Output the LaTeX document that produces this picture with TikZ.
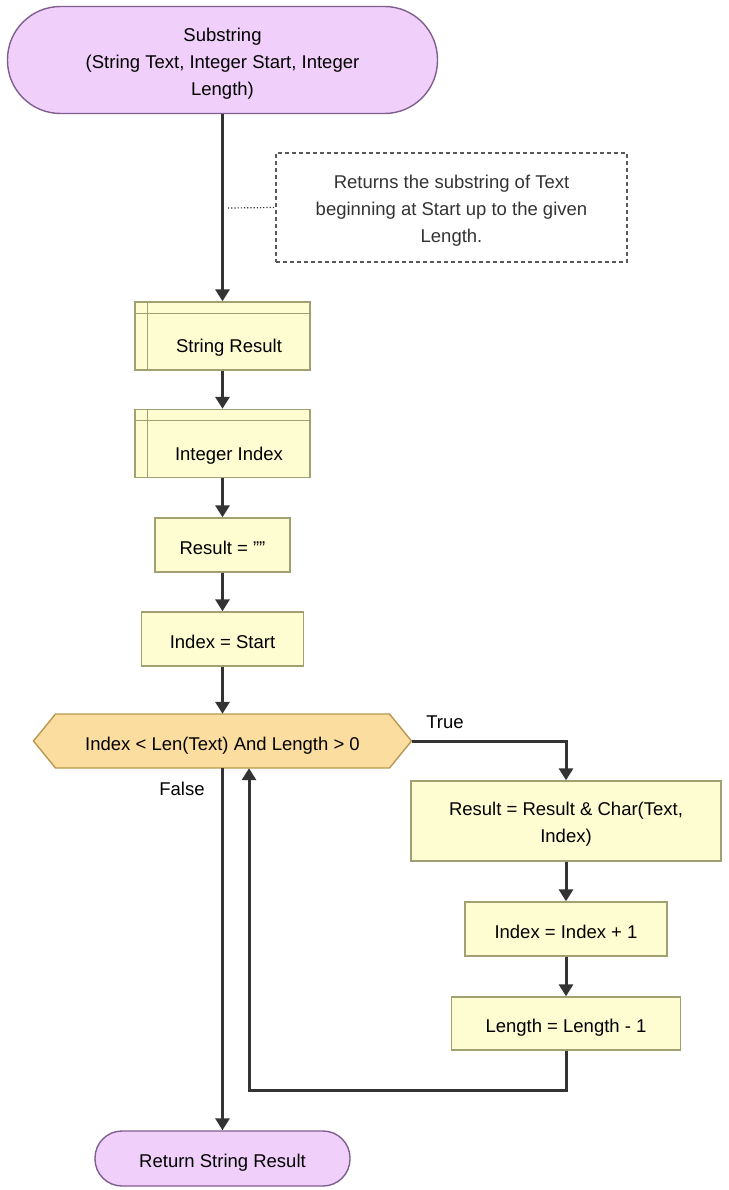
\documentclass[tikz,border=0pt]{standalone}
\usepackage{fontspec}
\setmainfont{Liberation Sans}
\usetikzlibrary{arrows.meta, positioning, calc}

\definecolor{termfill}{HTML}{F0D0FA}
\definecolor{termline}{HTML}{7F5F8F}
\definecolor{boxfill}{HTML}{FEFDD2}
\definecolor{boxline}{HTML}{A0A070}
\definecolor{condfill}{HTML}{FCDDA0}
\definecolor{condline}{HTML}{B89850}
\definecolor{flowline}{HTML}{333333}
\definecolor{notetext}{HTML}{333333}

\newcommand{\lowstrut}{\rule{0pt}{20.5pt}}

\begin{document}
\begin{tikzpicture}[x=1pt, y=-1pt, font=\fontsize{18.5}{27}\selectfont,
  term/.style={draw=termline, fill=termfill, line width=1.4pt, align=center, inner sep=0pt},
  proc/.style={draw=boxline, fill=boxfill, line width=1.4pt, align=center, inner sep=0pt},
  onerow/.style={text height=18pt, text depth=0pt},
  decl/.style={proc, text height=33pt, text depth=0pt},
  condshape/.style={draw=condline, fill=condfill, line width=1.4pt},
  notebox/.style={draw=black!65, fill=white, line width=1.3pt, dash pattern=on 4pt off 3pt,
                  text=notetext, align=center, inner sep=0pt},
  flow/.style={draw=flowline, line width=3pt, -{Triangle[length=12pt, width=14pt]}},
  tag/.style={inner sep=1pt}]

  % page
  \fill[white] (0,0) rectangle (728,1190);
  \useasboundingbox (0,0) rectangle (728,1190);

  % entry point and comment
  \node[term, minimum width=430pt, minimum height=107pt, rounded corners=53pt] (start) at (222.5,60)
    {\lowstrut Substring\\(String Text, Integer Start, Integer\\Length)};
  \node[notebox, minimum width=351pt, minimum height=109pt] (note) at (451.5,207.5)
    {\lowstrut Returns the substring of Text\\beginning at Start up to the given\\Length.};

  % declarations
  \node[decl, minimum width=175pt, minimum height=68pt] (dres) at (222.5,336) {\hspace*{13pt}String Result};
  \node[decl, minimum width=175pt, minimum height=68pt] (didx) at (222.5,443.5) {\hspace*{13pt}Integer Index};
  \foreach \b in {dres,didx} {
    \draw[boxline, line width=1.2pt] ([xshift=13pt]\b.north west) -- ([xshift=13pt]\b.south west);
    \draw[boxline, line width=1.2pt] ([yshift=-12pt]\b.north west) -- ([yshift=-12pt]\b.north east);
  }

  % assignments
  \node[proc, onerow, minimum width=135pt, minimum height=54pt] (ares) at (222.5,545) {Result = \char34\char34};
  \node[proc, onerow, minimum width=162pt, minimum height=54pt] (aidx) at (222.5,639) {Index = Start};

  % loop test
  \draw[condshape] (33.5,741) -- (55.5,714) -- (389.5,714) -- (411.5,741) -- (389.5,768) -- (55.5,768) -- cycle;
  \node[onerow, inner sep=0pt, minimum width=378pt, minimum height=54pt] (cond) at (222.5,741)
    {Index < Len(Text) And Length > 0};

  % loop body
  \node[proc, minimum width=310pt, minimum height=80pt] (cat) at (566,821)
    {\lowstrut Result = Result \& Char(Text,\\Index)};
  \node[proc, onerow, minimum width=202pt, minimum height=54pt] (inc) at (566,929) {Index = Index + 1};
  \node[proc, onerow, minimum width=229pt, minimum height=53pt] (dec) at (566,1023.5) {Length = Length - 1};

  % exit
  \node[term, onerow, minimum width=255pt, minimum height=55pt, rounded corners=27pt] (stop) at (222.5,1158.5)
    {Return String Result};

  % branch labels
  \node[tag] (true) at (445,722) {True};
  \node[tag] (false) at (182,789) {False};

  % connectors
  \coordinate (tap) at (228,208);
  \draw[black!80, line width=1.2pt, dotted] (tap) -- (note.west);
  \draw[flow] (start) -- (dres);
  \draw[flow] (dres) -- (didx);
  \draw[flow] (didx) -- (ares);
  \draw[flow] (ares) -- (aidx);
  \draw[flow] (aidx) -- (cond);
  \draw[flow] (cond.east) -| (cat.north);
  \draw[flow] (cat) -- (inc);
  \draw[flow] (inc) -- (dec);
  \draw[flow] (dec.south) -- ++(0,40) -| ([xshift=26.5pt]cond.south);
  \draw[flow] (cond.south) -- (stop.north);

\end{tikzpicture}
\end{document}
